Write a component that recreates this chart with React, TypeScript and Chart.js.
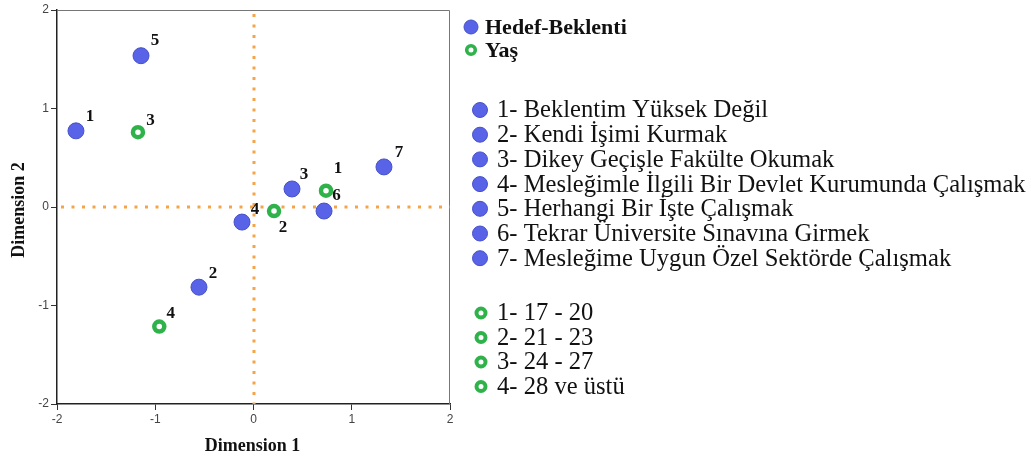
import React, { useEffect, useRef } from 'react';
import { Chart, registerables } from 'chart.js';

Chart.register(...registerables);

// ---------- data ----------
const seriesNames = ['Hedef-Beklenti', 'Yaş'];

const targetNames = [
  '1- Beklentim Yüksek Değil',
  '2- Kendi İşimi Kurmak',
  '3- Dikey Geçişle Fakülte Okumak',
  '4- Mesleğimle İlgili Bir Devlet Kurumunda Çalışmak',
  '5- Herhangi Bir İşte Çalışmak',
  '6- Tekrar Üniversite Sınavına Girmek',
  '7- Mesleğime Uygun Özel Sektörde Çalışmak',
];
const targetPointLabels = ['1', '2', '3', '4', '5', '6', '7'];
const targetX = [-1.807, -0.555, 0.392, -0.117, -1.145, 0.718, 1.328];
const targetY = [0.773, -0.814, 0.183, -0.153, 1.536, -0.041, 0.407];

const ageNames = ['1- 17 - 20', '2- 21 - 23', '3- 24 - 27', '4- 28 ve üstü'];
const agePointLabels = ['1', '2', '3', '4'];
const ageX = [0.738, 0.209, -1.176, -0.959];
const ageY = [0.166, -0.041, 0.76, -1.214];

const axisTicks = [-2, -1, 0, 1, 2];
const xTitle = 'Dimension 1';
const yTitle = 'Dimension 2';

// ---------- styles ----------
const BLUE = '#5863E8';
const BLUE_EDGE = '#4650C8';
const GREEN = '#2FB24A';
const ORANGE = '#F5A447';
const SERIF = '"Liberation Serif", "Times New Roman", serif';
const SANS = '"Liberation Sans", Arial, sans-serif';

// label offsets (px) from point centre to label centre
const targetLabelOffsets = [
  [14, -14], [14, -14], [12, -14], [13, -12], [14, -15], [12.5, -15], [15, -14],
];
const ageLabelOffsets = [
  [12, -22], [9, 16.5], [12.5, -11.5], [11.5, -12.6],
];

function drawDot(ctx: CanvasRenderingContext2D, x: number, y: number, r: number) {
  ctx.beginPath();
  ctx.arc(x, y, r, 0, Math.PI * 2);
  ctx.fillStyle = BLUE;
  ctx.fill();
  ctx.lineWidth = 1;
  ctx.strokeStyle = BLUE_EDGE;
  ctx.stroke();
}
function drawRing(ctx: CanvasRenderingContext2D, x: number, y: number, r: number, w: number) {
  ctx.beginPath();
  ctx.arc(x, y, r, 0, Math.PI * 2);
  ctx.fillStyle = '#fff';
  ctx.fill();
  ctx.lineWidth = w;
  ctx.strokeStyle = GREEN;
  ctx.stroke();
}

const overlay = {
  id: 'overlay',
  beforeDatasetsDraw(chart: any) {
    const { ctx, chartArea: a, scales } = chart;
    const x = scales.x;
    const y = scales.y;
    ctx.save();
    // frame top/right
    ctx.strokeStyle = '#777';
    ctx.lineWidth = 1;
    ctx.beginPath();
    ctx.moveTo(a.left, a.top + 0.5);
    ctx.lineTo(a.right - 0.5, a.top + 0.5);
    ctx.lineTo(a.right - 0.5, a.bottom);
    ctx.stroke();
    // dotted reference lines
    ctx.strokeStyle = ORANGE;
    ctx.lineWidth = 3;
    ctx.setLineDash([3, 7.5]);
    const x0 = Math.round(x.getPixelForValue(0));
    const y0 = Math.round(y.getPixelForValue(0));
    ctx.beginPath();
    ctx.moveTo(x0, a.top + 4);
    ctx.lineTo(x0, a.bottom);
    ctx.stroke();
    ctx.beginPath();
    ctx.moveTo(a.left + 4, y0);
    ctx.lineTo(a.right, y0);
    ctx.stroke();
    ctx.restore();
  },
  afterDatasetsDraw(chart: any) {
    const { ctx } = chart;
    ctx.save();
    ctx.font = `bold 17px ${SERIF}`;
    ctx.fillStyle = '#111';
    ctx.textAlign = 'center';
    ctx.textBaseline = 'middle';
    const sets: [string[], number[][]][] = [
      [targetPointLabels, targetLabelOffsets],
      [agePointLabels, ageLabelOffsets],
    ];
    sets.forEach(([labels, offs], di) => {
      const meta = chart.getDatasetMeta(di);
      meta.data.forEach((el: any, i: number) => {
        ctx.fillText(labels[i], el.x + offs[i][0], el.y + offs[i][1]);
      });
    });
    ctx.restore();
  },
  afterDraw(chart: any) {
    const { ctx, chartArea: a } = chart;
    ctx.save();
    ctx.fillStyle = '#111';
    // axis titles
    ctx.font = `bold 18px ${SERIF}`;
    ctx.textAlign = 'center';
    ctx.textBaseline = 'alphabetic';
    ctx.fillText(xTitle, (a.left + a.right) / 2 - 1, 451);
    ctx.save();
    ctx.translate(24, 210);
    ctx.rotate(-Math.PI / 2);
    ctx.fillText(yTitle, 0, 0);
    ctx.restore();

    // series legend
    ctx.textAlign = 'left';
    ctx.textBaseline = 'middle';
    ctx.font = `bold 22px ${SERIF}`;
    drawDot(ctx, 471, 27, 7);
    ctx.fillStyle = '#111';
    ctx.fillText(seriesNames[0], 485, 28);
    drawRing(ctx, 471, 50, 4.3, 3.6);
    ctx.fillStyle = '#111';
    ctx.fillText(seriesNames[1], 485, 51);

    // category legend
    ctx.font = `24.6px ${SERIF}`;
    targetNames.forEach((t, i) => {
      const yy = 110 + i * 24.7;
      drawDot(ctx, 480, yy, 7.5);
      ctx.fillStyle = '#111';
      ctx.fillText(t, 497, yy + 1);
    });
    ageNames.forEach((t, i) => {
      const yy = 313 + i * 24.5;
      drawRing(ctx, 481, yy, 4.5, 4);
      ctx.fillStyle = '#111';
      ctx.fillText(t, 497, yy + 1);
    });
    ctx.restore();
  },
};

export default function App() {
  const ref = useRef<HTMLCanvasElement>(null);
  useEffect(() => {
    if (!ref.current) return;
    const chart = new Chart(ref.current, {
      type: 'scatter',
      data: {
        datasets: [
          {
            label: seriesNames[0],
            data: targetX.map((v, i) => ({ x: v, y: targetY[i] })),
            backgroundColor: BLUE,
            borderColor: BLUE_EDGE,
            borderWidth: 1,
            pointRadius: 8,
            pointHoverRadius: 8,
          },
          {
            label: seriesNames[1],
            data: ageX.map((v, i) => ({ x: v, y: ageY[i] })),
            backgroundColor: '#ffffff',
            borderColor: GREEN,
            borderWidth: 4.5,
            pointRadius: 5,
            pointHoverRadius: 5,
          },
        ],
      },
      options: {
        animation: false,
        responsive: true,
        maintainAspectRatio: false,
        layout: { padding: { left: 0, top: 10, right: 580, bottom: 0 } },
        plugins: { legend: { display: false }, tooltip: { enabled: false } },
        scales: {
          x: {
            type: 'linear',
            min: -2,
            max: 2,
            afterFit: (s: any) => { s.height = 52; },
            afterBuildTicks: (s: any) => { s.ticks = axisTicks.map((v) => ({ value: v })); },
            grid: { display: true, drawOnChartArea: false, drawTicks: true, tickLength: 6, color: '#333' },
            border: { display: true, color: '#222', width: 1.5 },
            ticks: { color: '#444', font: { family: SANS, size: 12 }, padding: 2, maxRotation: 0 },
          },
          y: {
            type: 'linear',
            min: -2,
            max: 2,
            afterFit: (s: any) => { s.width = 57; },
            afterBuildTicks: (s: any) => { s.ticks = axisTicks.map((v) => ({ value: v })); },
            grid: { display: true, drawOnChartArea: false, drawTicks: true, tickLength: 6, color: '#333' },
            border: { display: true, color: '#222', width: 1.5 },
            ticks: { color: '#444', font: { family: SANS, size: 12 }, padding: 2 },
          },
        },
      },
      plugins: [overlay],
    });
    return () => chart.destroy();
  }, []);
  return (
    <div style={{ position: 'fixed', left: 0, top: 0, width: 1030, height: 456, background: '#fff' }}>
      <canvas ref={ref} />
    </div>
  );
}
